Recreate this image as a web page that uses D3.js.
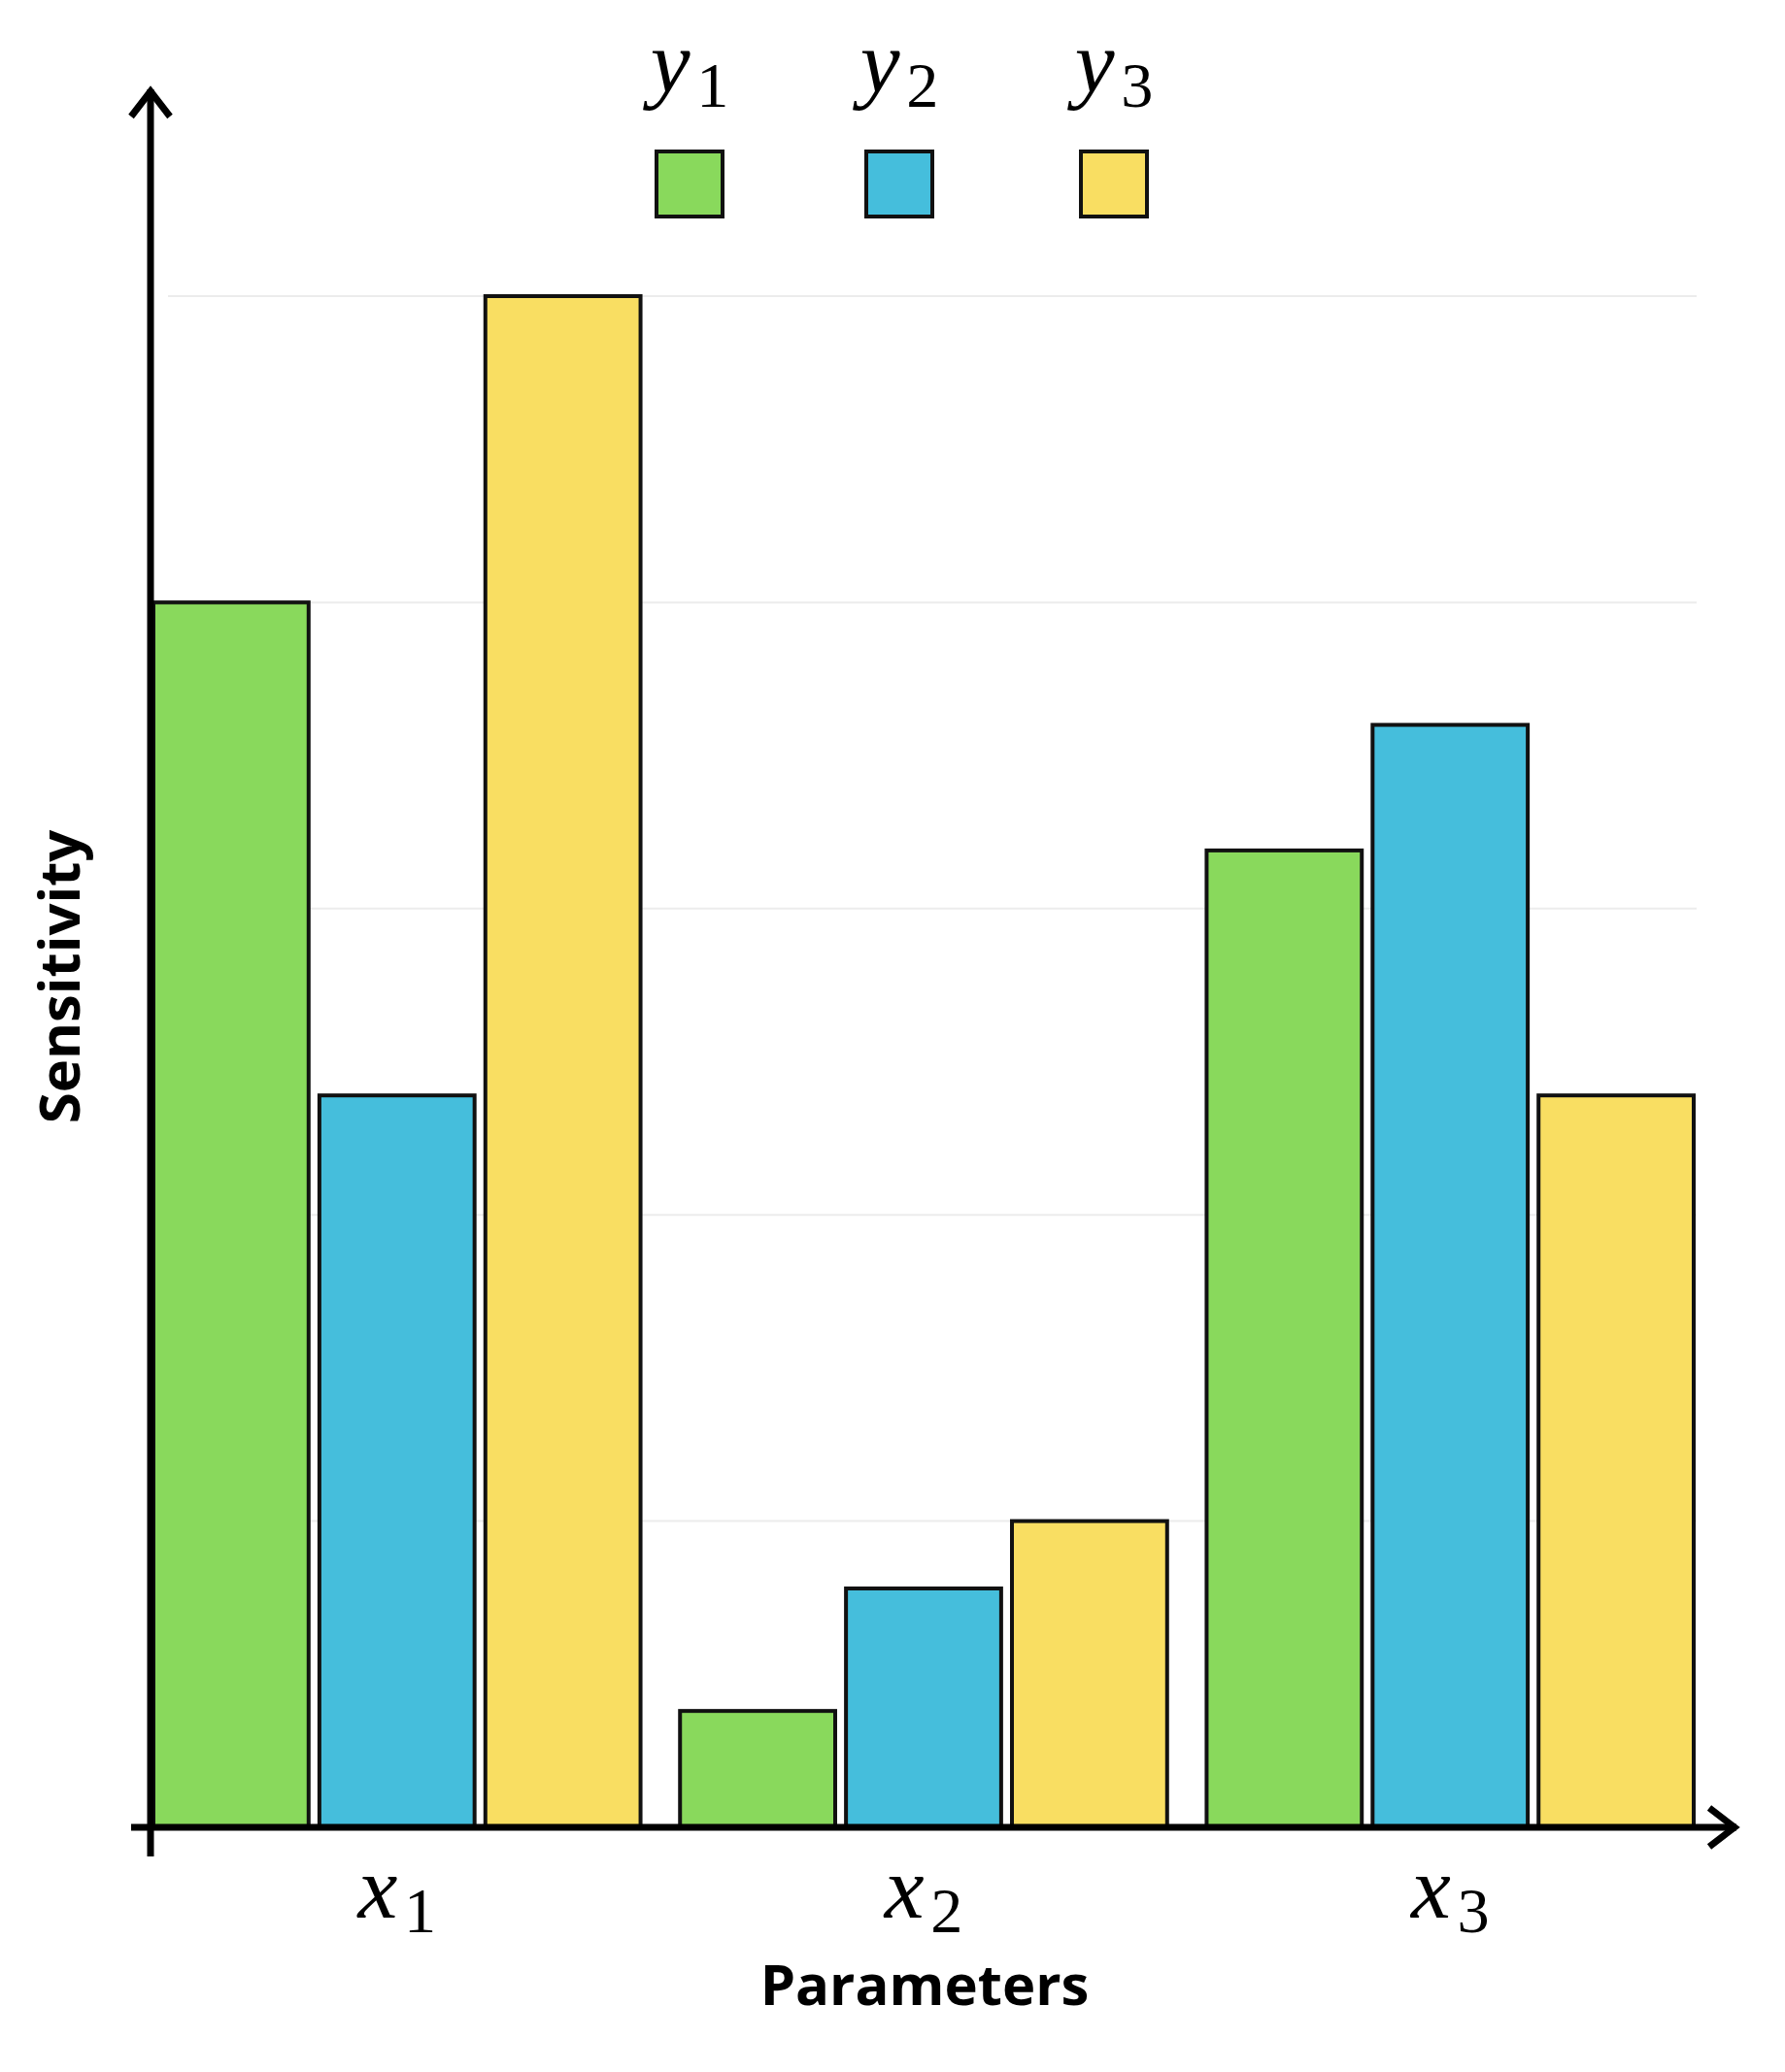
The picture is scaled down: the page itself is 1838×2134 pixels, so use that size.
<!DOCTYPE html>
<html><head><meta charset="utf-8">
<script src="https://cdn.jsdelivr.net/npm/d3@7"></script>
<style>body{margin:0;background:#fff}</style>
</head><body>
<svg id="chart" width="1838" height="2134"></svg>
<script>
const groups = ["1", "2", "3"];
const series = ["1", "2", "3"];
const colors = ["#89d95c", "#45bedc", "#f9de62"];
const values = [
    [4.0, 2.39, 5.0],
    [0.38, 0.78, 1.0],
    [3.19, 3.6, 2.39]
];
const gridTicks = [1, 2, 3, 4, 5];

const svg = d3.select("#chart");
const x0 = 155, y0 = 1882;

let xScale = d3.scaleBand().domain(groups).range([158, 1744]).paddingInner(0.075);
let xInner = d3.scaleBand().domain(series).range([0, xScale.bandwidth()]).paddingInner(0.065);
let yScale = d3.scaleLinear().domain([0, 5]).range([y0, 305]);

// grid
svg.selectAll("line.grid").data(gridTicks).enter().append("line")
    .attr("x1", x0 + 18).attr("x2", 1747)
    .attr("y1", d => yScale(d)).attr("y2", d => yScale(d))
    .attr("stroke", "#ececec").attr("stroke-width", 2);

// bars
const g = svg.selectAll("g.grp").data(values).enter().append("g")
    .attr("transform", (d, i) => "translate(" + xScale(groups[i]) + ",0)");
g.selectAll("rect").data(d => d).enter().append("rect")
    .attr("x", (d, i) => xInner(series[i]))
    .attr("y", d => yScale(d))
    .attr("width", xInner.bandwidth())
    .attr("height", d => y0 - yScale(d))
    .attr("fill", (d, i) => colors[i])
    .attr("stroke", "#111").attr("stroke-width", 4);

// axes with arrows
svg.append("line").attr("x1", x0).attr("x2", x0).attr("y1", 1912).attr("y2", 92)
    .attr("stroke", "#000").attr("stroke-width", 7);
svg.append("path").attr("d", `M${x0 - 20},${120} L${x0},${94} L${x0 + 20},${120}`)
    .attr("fill", "none").attr("stroke", "#000").attr("stroke-width", 7);
svg.append("line").attr("x1", 135).attr("x2", 1788).attr("y1", y0).attr("y2", y0)
    .attr("stroke", "#000").attr("stroke-width", 7);
svg.append("path").attr("d", `M1760,${y0 - 20} L1786,${y0} L1760,${y0 + 20}`)
    .attr("fill", "none").attr("stroke", "#000").attr("stroke-width", 7);

function mathLabel(sel, base, sub) {
    sel.attr("font-family", "'Liberation Serif', serif").attr("fill", "#000");
    sel.append("tspan").attr("font-style", "italic").text(base);
    sel.append("tspan").attr("font-size", "0.72em").attr("dy", "0.22em").attr("dx", "0.1em").text(sub);
}

// x tick labels
groups.forEach(k => {
    const t = svg.append("text").attr("x", xScale(k) + xScale.bandwidth() / 2).attr("y", 1975)
        .attr("text-anchor", "middle").attr("font-size", 92);
    mathLabel(t, "x", k);
});

// legend
const legX = [710, 926, 1147];
series.forEach((s, i) => {
    const t = svg.append("text").attr("x", legX[i]).attr("y", 95)
        .attr("text-anchor", "middle").attr("font-size", 92);
    mathLabel(t, "y", s);
    svg.append("rect").attr("x", legX[i] - 34).attr("y", 156).attr("width", 68).attr("height", 67)
        .attr("fill", colors[i]).attr("stroke", "#111").attr("stroke-width", 4);
});

// titles
svg.append("text").attr("x", 952).attr("y", 2065).attr("text-anchor", "middle")
    .attr("font-family", "'Open Sans', sans-serif").attr("font-weight", "bold").attr("font-size", 58)
    .text("Parameters");
svg.append("text").attr("transform", "translate(82,1006) rotate(-90)").attr("text-anchor", "middle")
    .attr("font-family", "'Open Sans', sans-serif").attr("font-weight", "bold").attr("font-size", 58)
    .text("Sensitivity");
</script>
</body></html>
